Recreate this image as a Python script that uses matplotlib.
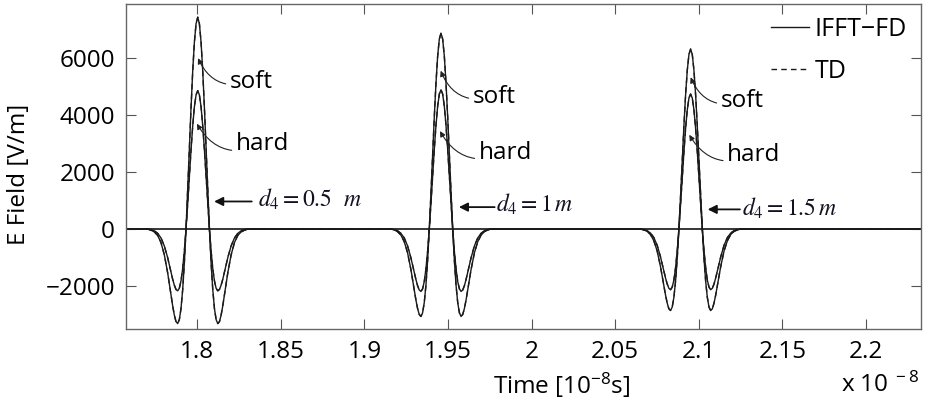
import numpy as np
import matplotlib
matplotlib.use("Agg")
import matplotlib.pyplot as plt

plt.rcParams['font.family'] = ['Open Sans', 'DejaVu Sans']
plt.rcParams['mathtext.fontset'] = 'custom'
plt.rcParams['mathtext.rm'] = 'Open Sans'
plt.rcParams['mathtext.it'] = 'Open Sans:italic'
plt.rcParams['mathtext.bf'] = 'Open Sans:bold'

# time offsets from each pulse centre (1e-8 s), right half only - pulses are symmetric
half_offsets = [0.000, 0.001, 0.002, 0.003, 0.004, 0.005, 0.006, 0.007, 0.008, 0.009, 0.010, 0.011,
                0.012, 0.013, 0.014, 0.015, 0.016, 0.018, 0.020, 0.022, 0.024, 0.026, 0.028, 0.030]
pulse_centres = [1.8003, 1.9458, 2.0951]

# soft source, E field [V/m] at the offsets above
soft_1 = [7440, 7210, 6560, 5540, 4260, 2820, 1370, 0, -1190, -2130, -2790, -3180,
          -3320, -3250, -3020, -2690, -2310, -1530, -900, -470, -220, -100, -40, 0]
soft_2 = [6880, 6670, 6070, 5120, 3940, 2610, 1260, 0, -1100, -1970, -2580, -2940,
          -3070, -3000, -2790, -2490, -2130, -1420, -830, -440, -210, -90, -30, 0]
soft_3 = [6320, 6130, 5570, 4710, 3620, 2400, 1160, 0, -1020, -1830, -2400, -2740,
          -2860, -2800, -2600, -2320, -1990, -1320, -770, -410, -190, -80, -30, 0]
# hard source
hard_1 = [4860, 4710, 4290, 3620, 2780, 1840, 890, 0, -770, -1390, -1820, -2080,
          -2170, -2120, -1970, -1760, -1510, -1000, -590, -310, -150, -60, -20, 0]
hard_2 = [4890, 4740, 4310, 3640, 2800, 1860, 900, 0, -780, -1400, -1840, -2100,
          -2190, -2140, -1990, -1770, -1520, -1010, -590, -310, -150, -60, -20, 0]
hard_3 = [4740, 4600, 4180, 3530, 2710, 1800, 870, 0, -760, -1360, -1790, -2040,
          -2130, -2080, -1930, -1720, -1470, -980, -570, -300, -140, -60, -20, 0]

distance_labels = [r'$d_4 = 0.5\ \ m$', r'$d_4 = 1\,m$', r'$d_4 = 1.5\,m$']

x_ticks = [1.8, 1.85, 1.9, 1.95, 2.0, 2.05, 2.1, 2.15, 2.2]
x_tick_labels = ['1.8', '1.85', '1.9', '1.95', '2', '2.05', '2.1', '2.15', '2.2']
y_ticks = [-2000, 0, 2000, 4000, 6000]
y_tick_labels = ['\u22122000', '0', '2000', '4000', '6000']

XMIN, XMAX = 1.7574, 2.2329
YMIN, YMAX = -3510, 7920


def mirror(half):
    half = np.asarray(half, dtype=float)
    return np.concatenate([half[:0:-1], half])


def full_trace(pulses):
    offs = np.concatenate([-np.asarray(half_offsets)[:0:-1], half_offsets])
    t = [np.array([XMIN])]
    v = [np.array([0.0])]
    for c, p in zip(pulse_centres, pulses):
        t.append(c + offs)
        v.append(mirror(p))
    t.append(np.array([XMAX]))
    v.append(np.array([0.0]))
    return np.concatenate(t), np.concatenate(v)


def main():
    fig = plt.figure(figsize=(9.29, 4.13), dpi=100)
    ax = fig.add_axes([126 / 929, 1 - 329 / 413, 795 / 929, 325.5 / 413])

    t_soft, v_soft = full_trace([soft_1, soft_2, soft_3])
    t_hard, v_hard = full_trace([hard_1, hard_2, hard_3])

    line_col = '#1a1a1a'
    ax.axhline(0, color='k', lw=1.1, zorder=1)
    l1, = ax.plot(t_soft, v_soft, color=line_col, lw=1.0, label='IFFT\u2212FD')
    ax.plot(t_hard, v_hard, color=line_col, lw=1.0)
    l2, = ax.plot(t_soft, v_soft, color=line_col, lw=1.0, ls=(0, (4, 3)), label='TD')
    ax.plot(t_hard, v_hard, color=line_col, lw=1.0, ls=(0, (4, 3)))

    ax.set_xlim(XMIN, XMAX)
    ax.set_ylim(YMIN, YMAX)
    ax.set_xticks(x_ticks)
    ax.set_xticklabels(x_tick_labels)
    ax.set_yticks(y_ticks)
    ax.set_yticklabels(y_tick_labels)
    ax.tick_params(direction='in', top=True, right=True, length=7, width=0.8,
                   color='#555555', labelsize=17.5, pad=8)
    for s in ax.spines.values():
        s.set_color('#666666')
        s.set_linewidth(1.0)

    # soft / hard labels with curved arrows
    soft_pos = [((1.8005, 6000), (1.8195, 5180)),
                ((1.9456, 5560), (1.9648, 4650)),
                ((2.0951, 5330), (2.1131, 4480))]
    hard_pos = [((1.7998, 3700), (1.8231, 2970)),
                ((1.9452, 3440), (1.9684, 2670)),
                ((2.0943, 3310), (2.1170, 2610))]
    arrow_kw = dict(arrowstyle='-|>', connectionstyle='arc3,rad=-0.45', lw=0.8,
                    color='#222222', shrinkA=1, shrinkB=0, mutation_scale=8)
    for (xy, xt) in soft_pos:
        ax.annotate('soft', xy=xy, xytext=xt, ha='left', va='center', fontsize=17.5,
                    arrowprops=arrow_kw)
    for (xy, xt) in hard_pos:
        ax.annotate('hard', xy=xy, xytext=xt, ha='left', va='center', fontsize=17.5,
                    arrowprops=arrow_kw)

    # distance labels with straight arrows
    d_arrows = [((1.8101, 968), (1.8326, 968), (1.8365, 1010)),
                ((1.9565, 770), (1.9779, 770), (1.9790, 830)),
                ((2.1053, 690), (2.1246, 690), (2.1256, 700))]
    for (tip, tail, txt), lab in zip(d_arrows, distance_labels):
        ax.annotate('', xy=tip, xytext=tail,
                    arrowprops=dict(arrowstyle='-|>', lw=1.3, color='#111111',
                                    shrinkA=0, shrinkB=0, mutation_scale=13))
        ax.text(txt[0], txt[1], lab, ha='left', va='center', fontsize=17,
                math_fontfamily='stix', color='#111122')

    ax.legend(handles=[l1, l2], loc='upper right', bbox_to_anchor=(0.982, 0.958),
              frameon=False, fontsize=18, handlelength=1.55, handletextpad=0.2,
              labelspacing=0.68, borderaxespad=0, borderpad=0)

    fig.text(19 / 929, 1 - 174 / 413, 'E Field [V/m]', rotation=90, ha='center',
             va='center', fontsize=17.5)
    fig.text(562 / 929, 1 - 385 / 413, r'Time [10$^{\mathregular{-8}}$s]', ha='center',
             va='center', fontsize=17.5)
    fig.text(880 / 929, 1 - 385 / 413, r'x 10$^{\ -8}$', ha='center',
             va='center', fontsize=17.5)

    fig.savefig('out.png', dpi=100)


if __name__ == "__main__":
    main()
